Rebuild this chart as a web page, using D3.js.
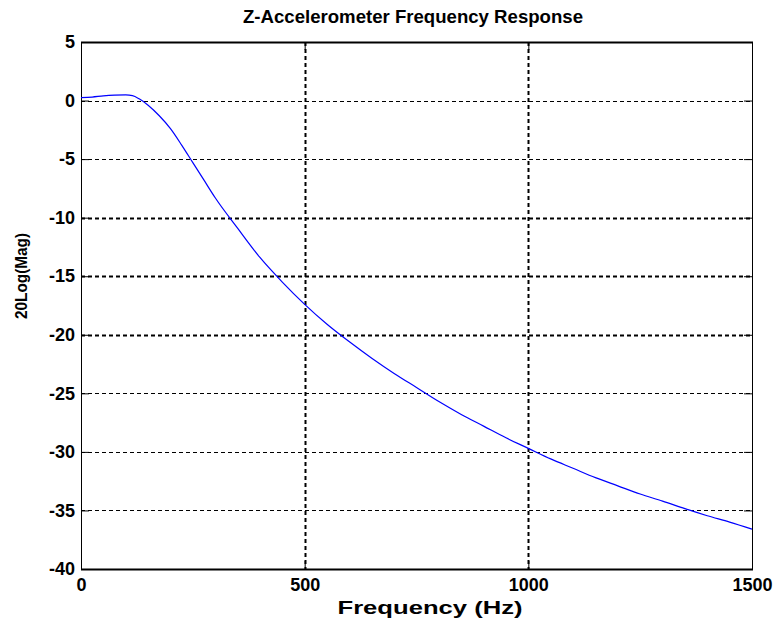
<!DOCTYPE html>
<html>
<head>
<meta charset="utf-8">
<script src="https://cdn.jsdelivr.net/npm/d3@7/dist/d3.min.js"></script>
<style>
  html, body { margin: 0; padding: 0; background: #fff; }
  svg { display: block; }
  text { font-family: "Liberation Sans", Arial, sans-serif; font-weight: bold; fill: #000; }
</style>
</head>
<body>
<svg id="chart" width="777" height="624"></svg>
<script>
// Measured magnitude response of the Z axis accelerometer
const freqHz = [0, 25, 50, 75, 100, 115, 130, 150, 175, 200, 225, 250, 275, 300, 350, 400, 450, 500,
                550, 600, 650, 700, 750, 800, 850, 900, 950, 1000, 1050, 1100, 1150, 1200, 1250, 1300, 1350, 1400, 1450, 1500];
const magDb  = [0.25, 0.3, 0.4, 0.46, 0.48, 0.42, 0.15, -0.4, -1.3, -2.4, -3.8, -5.3, -6.8, -8.3, -10.9, -13.4, -15.5, -17.4,
                -19.1, -20.6, -22.0, -23.3, -24.5, -25.7, -26.8, -27.8, -28.8, -29.7, -30.6, -31.4, -32.2, -32.9, -33.6, -34.2, -34.85, -35.45, -36.0, -36.6];

const xTicks = [0, 500, 1000, 1500];
const yTicks = [5, 0, -5, -10, -15, -20, -25, -30, -35, -40];
const heavyGridY = [-10, -15, -20];

const titleText = "Z-Accelerometer Frequency Response";
const xLabelText = "Frequency (Hz)";
const yLabelText = "20Log(Mag)";

const svg = d3.select("#chart");
const plotL = 81, plotR = 752, plotT = 42, plotB = 569;

const x = d3.scaleLinear().domain([0, 1500]).range([plotL, plotR]);
const y = d3.scaleLinear().domain([-40, 5]).range([plotB, plotT]);

const plainNum = d => String(d);

// Grid lines
const grid = svg.append("g");
grid.selectAll("line.gx")
  .data(xTicks.filter(d => d > 0 && d < 1500))
  .join("line")
  .attr("x1", d => Math.round(x(d)) + 0.5).attr("x2", d => Math.round(x(d)) + 0.5)
  .attr("y1", plotT).attr("y2", plotB)
  .attr("stroke", "#000").attr("stroke-width", 2)
  .attr("stroke-dasharray", "4,3");
grid.selectAll("line.gy")
  .data(yTicks.filter(d => d < 5 && d > -40))
  .join("line")
  .attr("x1", plotL).attr("x2", plotR)
  .attr("y1", d => Math.round(y(d)) + 0.5).attr("y2", d => Math.round(y(d)) + 0.5)
  .attr("stroke", "#000")
  .attr("stroke-width", d => heavyGridY.includes(d) ? 2 : 1)
  .attr("stroke-dasharray", "4,3");

// Axes with inward ticks
const xAxisB = d3.axisBottom(x).tickValues(xTicks).tickFormat(plainNum).tickSizeInner(-8).tickSizeOuter(0);
const xAxisT = d3.axisTop(x).tickValues(xTicks).tickSizeInner(-8).tickSizeOuter(0).tickFormat("");
const yAxisL = d3.axisLeft(y).tickValues(yTicks).tickFormat(plainNum).tickSizeInner(-8).tickSizeOuter(0);
const yAxisR = d3.axisRight(y).tickValues(yTicks).tickSizeInner(-8).tickSizeOuter(0).tickFormat("");

function styleAxis(g) {
  g.select(".domain").remove();
  g.selectAll(".tick line").attr("stroke", "#000");
  g.selectAll(".tick text")
    .style("font-family", "'Liberation Sans', Arial, sans-serif")
    .style("font-weight", "bold")
    .style("font-size", "18px")
    .attr("fill", "#000");
}
svg.append("g").attr("transform", `translate(0,${plotB})`).call(xAxisB).call(styleAxis)
  .selectAll(".tick text").attr("dy", "0.71em").attr("y", 9);
svg.append("g").attr("transform", `translate(0,${plotT})`).call(xAxisT).call(styleAxis);
svg.append("g").attr("transform", `translate(${plotL},0)`).call(yAxisL).call(styleAxis)
  .selectAll(".tick text").attr("x", -6);
svg.append("g").attr("transform", `translate(${plotR},0)`).call(yAxisR).call(styleAxis);

// Plot box
svg.append("rect")
  .attr("x", plotL + 0.5).attr("y", plotT + 0.5)
  .attr("width", plotR - plotL).attr("height", plotB - plotT)
  .attr("fill", "none").attr("stroke", "#000").attr("stroke-width", 1);
svg.append("line").attr("x1", plotL).attr("x2", plotR + 1).attr("y1", plotT + 0.5).attr("y2", plotT + 0.5)
  .attr("stroke", "#000").attr("stroke-width", 2);
svg.append("line").attr("x1", plotL).attr("x2", plotR + 1).attr("y1", plotB + 0.5).attr("y2", plotB + 0.5)
  .attr("stroke", "#000").attr("stroke-width", 2);

// Response curve
const pts = freqHz.map((f, i) => [f, magDb[i]]);
const line = d3.line().x(d => x(d[0])).y(d => y(d[1])).curve(d3.curveMonotoneX);
svg.append("path")
  .datum(pts)
  .attr("d", line)
  .attr("fill", "none")
  .attr("stroke", "#0000ff")
  .attr("stroke-width", 1.2);

// Titles
svg.append("text")
  .attr("x", 413).attr("y", 23)
  .attr("text-anchor", "middle")
  .style("font-size", "18px")
  .attr("textLength", 340).attr("lengthAdjust", "spacingAndGlyphs")
  .text(titleText);

svg.append("text")
  .attr("x", 430).attr("y", 614)
  .attr("text-anchor", "middle")
  .style("font-size", "19px")
  .attr("textLength", 185).attr("lengthAdjust", "spacingAndGlyphs")
  .text(xLabelText);

svg.append("text")
  .attr("transform", "translate(27,276) rotate(-90)")
  .attr("text-anchor", "middle")
  .style("font-size", "17px")
  .attr("textLength", 86).attr("lengthAdjust", "spacingAndGlyphs")
  .text(yLabelText);
</script>
</body>
</html>
